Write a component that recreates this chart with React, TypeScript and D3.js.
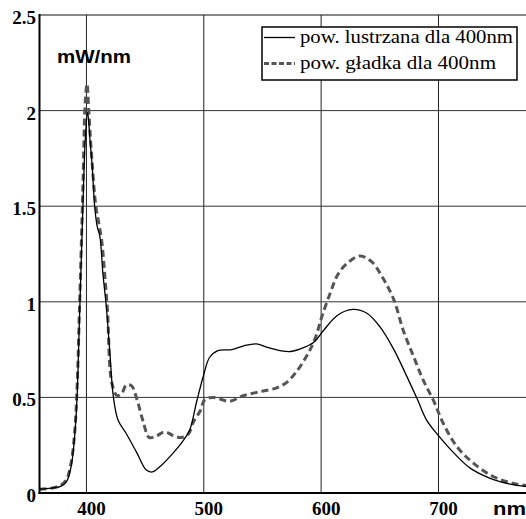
import React from "react";
import * as d3 from "d3";

const solidNm = [360, 370, 378, 383, 387, 390, 392, 394, 397, 399, 401, 403, 405, 407, 409, 411.5, 414, 417, 420, 423, 427, 434, 443, 451, 456, 463, 474, 482, 488, 494, 500, 505, 512, 524, 534, 545, 555, 565, 574, 585, 594, 602, 614, 627, 639, 650, 662, 673, 682, 690, 700, 713, 727, 744, 761, 780];
const solidVal = [0.02, 0.025, 0.035, 0.06, 0.14, 0.3, 0.5, 0.9, 1.5, 1.85, 1.99, 1.85, 1.7, 1.5, 1.4, 1.34, 1.15, 0.97, 0.73, 0.5, 0.38, 0.31, 0.21, 0.12, 0.11, 0.14, 0.21, 0.27, 0.33, 0.48, 0.62, 0.71, 0.745, 0.75, 0.77, 0.78, 0.76, 0.745, 0.74, 0.76, 0.79, 0.85, 0.93, 0.96, 0.94, 0.87, 0.75, 0.61, 0.49, 0.38, 0.3, 0.21, 0.13, 0.077, 0.047, 0.03];

const dashNm = [360, 370, 378, 383, 387, 390, 392, 394, 397, 399, 400.5, 402, 404, 408, 410, 413, 416, 418, 421.5, 426, 430, 434, 438.5, 443, 448.5, 453.5, 460, 467, 474, 481, 487, 491, 497, 501, 508, 522, 534, 548, 562, 571, 579, 588, 595, 601, 608, 614, 622, 633, 643, 653, 662, 670, 679, 687, 696, 704, 716, 730, 747, 764, 780];
const dashVal = [0.02, 0.025, 0.04, 0.07, 0.16, 0.32, 0.55, 0.95, 1.6, 2.05, 2.14, 2.0, 1.8, 1.5, 1.43, 1.32, 1.11, 0.95, 0.58, 0.51, 0.52, 0.565, 0.56, 0.49, 0.37, 0.29, 0.3, 0.32, 0.3, 0.29, 0.31, 0.37, 0.43, 0.49, 0.5, 0.48, 0.51, 0.53, 0.55, 0.58, 0.635, 0.72, 0.81, 0.93, 1.05, 1.14, 1.2, 1.24, 1.21, 1.12, 1.01, 0.85, 0.71, 0.59, 0.48, 0.365, 0.24, 0.155, 0.085, 0.05, 0.035];

const xTicks = [400, 500, 600, 700];
const yTicks = [0, 0.5, 1, 1.5, 2, 2.5];
const yTickLabels = ["0", "0.5", "1", "1.5", "2", "2.5"];
const legendLabels = ["pow. lustrzana dla 400nm", "pow. gładka dla 400nm"];
const yUnit = "mW/nm";
const xUnit = "nm";

const W = 526;
const H = 519;
const left = 39.5;
const top = 15;
const bottom = 493;

export default function App() {
  const x = d3.scaleLinear().domain([360, 780]).range([left, left + 420 * 1.1735]);
  const y = d3.scaleLinear().domain([0, 2.5]).range([bottom, top]);
  const line = d3
    .line<[number, number]>()
    .x((d) => x(d[0]))
    .y((d) => y(d[1]))
    .curve(d3.curveCatmullRom.alpha(0.5));
  const solidPts = solidNm.map((n, i) => [n, solidVal[i]] as [number, number]);
  const dashPts = dashNm.map((n, i) => [n, dashVal[i]] as [number, number]);
  const serif = "'Liberation Serif', 'Times New Roman', serif";
  const sans = "'Liberation Sans', Arial, sans-serif";

  return (
    <svg width={W} height={H} style={{ position: "absolute", left: 0, top: 0, background: "#fff" }}>
      <defs>
        <clipPath id="plot">
          <rect x={left} y={top} width={W - left} height={bottom - top} />
        </clipPath>
      </defs>
      <rect x={0} y={0} width={W} height={H} fill="#fff" />
      {/* grid */}
      {xTicks.map((t) => (
        <line key={"gx" + t} x1={x(t)} x2={x(t)} y1={top} y2={bottom} stroke="#222" strokeWidth={1} />
      ))}
      {yTicks.slice(1, 5).map((t) => (
        <line key={"gy" + t} x1={left} x2={W} y1={y(t)} y2={y(t)} stroke="#333" strokeWidth={1} />
      ))}
      {/* top border */}
      <line x1={left} x2={W} y1={top} y2={top} stroke="#111" strokeWidth={1.2} />
      {/* curves */}
      <g clipPath="url(#plot)">
        <path d={line(dashPts) || ""} fill="none" stroke="#555" strokeWidth={3} strokeDasharray="7,4" />
        <path d={line(solidPts) || ""} fill="none" stroke="#000" strokeWidth={1.3} />
      </g>
      {/* axes */}
      <line x1={left} x2={left} y1={top - 1} y2={bottom + 1} stroke="#000" strokeWidth={2} />
      <line x1={left - 1} x2={W} y1={bottom} y2={bottom} stroke="#000" strokeWidth={2.2} />
      {/* y tick labels */}
      {yTicks.map((t, i) => (
        <text key={"yl" + t} x={36} y={y(t) + 9} textAnchor="end" fontFamily={serif} fontWeight="bold" fontSize={19} fill="#000">
          {yTickLabels[i]}
        </text>
      ))}
      {/* x tick labels */}
      {xTicks.map((t) => (
        <text key={"xl" + t} x={x(t) + 5} y={515} textAnchor="middle" fontFamily={serif} fontWeight="bold" fontSize={19} fill="#000">
          {t}
        </text>
      ))}
      <text x={493} y={515} fontFamily={sans} fontWeight="bold" fontSize={18} textLength={33} lengthAdjust="spacingAndGlyphs" fill="#000">
        {xUnit}
      </text>
      <text x={57} y={62.5} fontFamily={sans} fontWeight="bold" fontSize={17.5} textLength={74} lengthAdjust="spacingAndGlyphs" fill="#000">
        {yUnit}
      </text>
      {/* legend */}
      <rect x={262} y={27} width={255} height={53} fill="#fff" stroke="#000" strokeWidth={1.5} />
      <line x1={264} x2={295} y1={37.5} y2={37.5} stroke="#000" strokeWidth={1.3} />
      <line x1={264} x2={295} y1={63.5} y2={63.5} stroke="#555" strokeWidth={3} strokeDasharray="5,2.5" />
      <text x={300} y={43} fontFamily={serif} fontSize={18} textLength={213} lengthAdjust="spacingAndGlyphs" fill="#000">
        {legendLabels[0]}
      </text>
      <text x={300} y={69} fontFamily={serif} fontSize={18} textLength={196} lengthAdjust="spacingAndGlyphs" fill="#000">
        {legendLabels[1]}
      </text>
    </svg>
  );
}
